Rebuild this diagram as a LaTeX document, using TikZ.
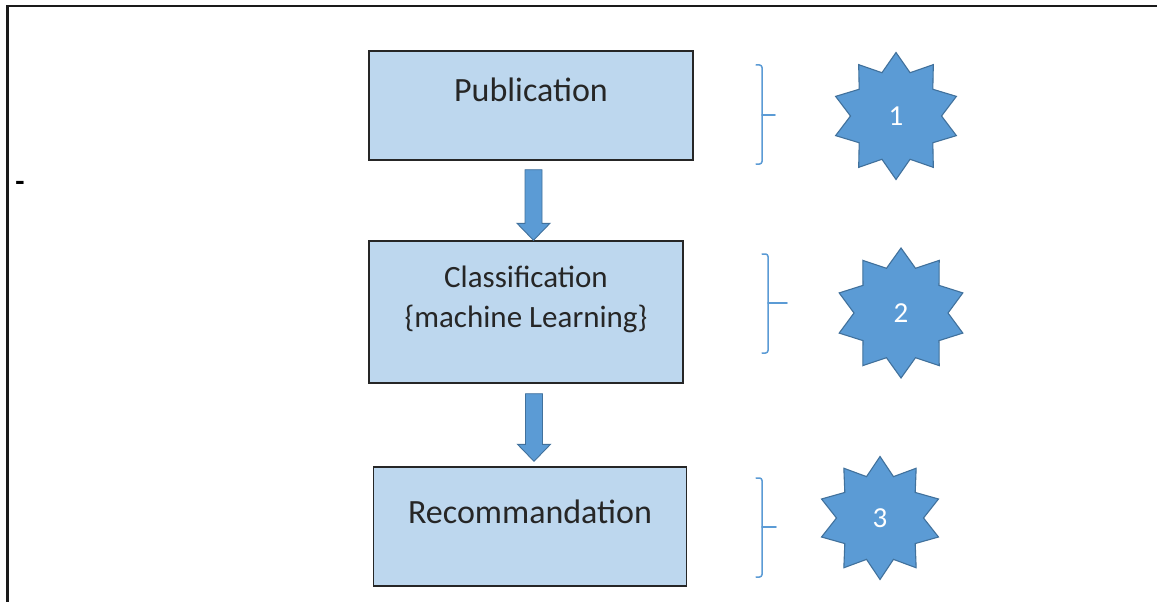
\documentclass[tikz,border=0pt]{standalone}
\usepackage{fontspec}
\setmainfont{Carlito}
\usetikzlibrary{calc,shapes.geometric}
\definecolor{boxfill}{HTML}{BDD7EE}
\definecolor{boxline}{HTML}{262626}
\definecolor{accent}{HTML}{5B9BD5}
\definecolor{accentdark}{HTML}{41719C}
\definecolor{framecol}{HTML}{1A1A1A}
\newcommand{\boxtext}[4]{\parbox[c][#2][t]{#1}{\centering\vspace*{#3}#4}}
\begin{document}
\begin{tikzpicture}[x=1pt,y=-1pt,
  stagebox/.style={draw=boxline, fill=boxfill, line width=1.4pt, inner sep=0pt,
    font=\fontsize{34}{40}\selectfont, text=black!85},
  badge/.style={star, star points=10, star point height=18pt,
    inner sep=0pt, fill=accent, draw=accentdark, line width=1.1pt, text=white,
    font=\fontsize{29}{30}\selectfont},
  bracecol/.style={draw=accent, line width=1.5pt, line cap=round},
  blockarrow/.style={fill=accent, draw=accentdark, line width=0.9pt,
    to path={let \p1=(\tikztostart), \p2=(\tikztotarget) in
      (\x1-8.5pt,\y1) -- (\x1+8.5pt,\y1) -- (\x1+8.5pt,\y2+17pt)
      -- (\x1+16.5pt,\y2+17pt) -- (\x1,\y2) -- (\x1-16.5pt,\y2+17pt)
      -- (\x1-8.5pt,\y2+17pt) -- cycle \tikztonodes}}]
\useasboundingbox (0,0) rectangle (1157,602);
\fill[white] (0,0) rectangle (1157,602);

% outer frame (left and top edges)
\draw[framecol, line width=2.4pt] (7.5,602) -- (7.5,6) -- (1157,6);
\node[font=\bfseries\fontsize{30}{30}\selectfont, inner sep=0pt] (dash) at (20,186) {-};

% process stages
\node[stagebox] (pub) at (531,105.5) {\boxtext{324pt}{109pt}{27pt}{Publication}};
\node[stagebox, font=\fontsize{31}{40}\selectfont] (cls) at (526,312)
  {\boxtext{314pt}{142pt}{25pt}{Classification\\ \{machine Learning\}}};
\node[stagebox] (rec) at (530,526.5) {\boxtext{313pt}{119pt}{33pt}{Recommandation}};

% block arrows between stages
\draw[blockarrow] ($(pub.south)+(2.5,9)$) to ($(cls.north)+(8,0)$);
\draw[blockarrow] ($(cls.south)+(8,10)$) to ($(rec.north)+(4,-5)$);

% side brackets
\draw[bracecol, rounded corners=2.5pt] (756,65) -- (762,65) -- (762,164) -- (756,164);
\draw[bracecol] (762,115) -- (775,115);
\draw[bracecol, rounded corners=2.5pt] (762,254) -- (768,254) -- (768,353) -- (762,353);
\draw[bracecol] (768,303) -- (787,303);
\draw[bracecol, rounded corners=2.5pt] (756,478) -- (762,478) -- (762,577) -- (756,577);
\draw[bracecol] (762,527) -- (776,527);

% numbered badges
\node[badge, minimum size=127pt] (s1) at (896,116) {1};
\node[badge, minimum size=130pt] (s2) at (901,313) {2};
\node[badge, minimum size=123pt] (s3) at (880,518) {3};
\end{tikzpicture}
\end{document}
